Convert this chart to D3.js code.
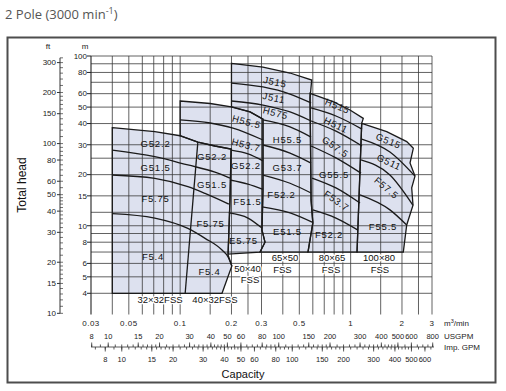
<!DOCTYPE html>
<html>
<head>
<meta charset="utf-8">
<script src="https://cdnjs.cloudflare.com/ajax/libs/d3/7.8.5/d3.min.js"></script>
<style>
  body { margin: 0; background: #fff; }
  text { font-family: "Liberation Sans", Arial, sans-serif; }
</style>
</head>
<body>
<div id="chart"></div>
<script>
// axes values
const flowTicks = [0.03, 0.05, 0.1, 0.2, 0.3, 0.5, 1, 2, 3];
const flowGrid = [0.04, 0.05, 0.06, 0.07, 0.08, 0.09, 0.1, 0.15, 0.2, 0.25, 0.3, 0.4, 0.5, 0.6, 0.7, 0.8, 0.9, 1, 1.5, 2, 2.5, 3];
const headTicks = [4, 5, 6, 8, 10, 15, 20, 30, 40, 50, 60, 80, 100];
const headGrid = [4, 5, 6, 7, 8, 9, 10, 12, 15, 20, 25, 30, 40, 50, 60, 70, 80, 90, 100];
const feetTicks = [10, 15, 20, 30, 40, 50, 60, 80, 100, 150, 200, 300];
const usgpmTicks = [8, 10, 15, 20, 30, 40, 50, 60, 80, 100, 150, 200, 300, 400, 500, 600, 800];
const impTicks = [8, 10, 15, 20, 30, 40, 50, 60, 80, 100, 150, 200, 300, 400, 500, 600];

// 32x32 / 40x32 FSS  [m3/min, m]
const fss32Outline = [[0.04,37.8],[0.071,35.8],[0.1,33.9],[0.127,31.1],[0.16,29.5],[0.199,28.3],
  [0.196,14.2],[0.191,6.72],[0.201,5.79],[0.176,4],[0.04,4]];
const fss32Curves = [
  [[0.04,27.9],[0.071,25.5],[0.111,22.8],[0.16,20.7],[0.196,19.1]],
  [[0.04,19.9],[0.071,19.0],[0.111,17.0],[0.14,15.5],[0.193,13.4]],
  [[0.04,11.8],[0.071,11.1],[0.111,9.65],[0.14,8.43],[0.176,7.19],[0.191,6.54],[0.201,5.79]]
];
const fss32Divider = [[0.127,31.1],[0.107,4]];
const fss32Labels = [[0.0717,30.6,"G52.2"],[0.0717,22.1,"G51.5"],[0.0717,14.5,"F5.75"],[0.0693,6.57,"F5.4"],
  [0.1538,25.5,"G52.2"],[0.1538,17.4,"G51.5"],[0.1507,10.3,"F5.75"],[0.1487,5.36,"F5.4"]];

// 50x40 FSS
const fss50Outline = [[0.1,54.3],[0.15,52.5],[0.204,50],[0.257,46.8],[0.306,42.5],[0.306,16.2],[0.302,9.43],
  [0.3145,8.0],[0.294,7.0],[0.191,6.8],[0.196,14.2],[0.199,28.3],[0.16,29.5],[0.127,31.1],[0.1,33.9]];
const fss50Curves = [
  [[0.1,42.0],[0.15,40.3],[0.204,37.6],[0.306,32.0]],
  [[0.199,27.9],[0.25,26.5],[0.306,24.1]],
  [[0.196,18.6],[0.25,17.6],[0.306,16.4]],
  [[0.193,11.9],[0.25,11.1],[0.302,9.69]]
];
const fss50Labels = [[0.245,40.9,"H55.5"],[0.2433,29.9,"H53.7"],[0.2433,22.5,"G52.2"],[0.2483,13.8,"F51.5"],[0.2353,8.12,"E5.75"]];

// 65x50 FSS
const fss65Outline = [[0.2,90.6],[0.306,86.1],[0.441,79.4],[0.591,72.2],[0.578,56.6],[0.586,14.2],[0.6,10.4],
  [0.562,7.0],[0.294,7.0],[0.3145,8.0],[0.302,9.43],[0.306,16.2],[0.306,42.5],[0.257,46.8],[0.2,50]];
const fss65Curves = [
  [[0.2,69.3],[0.306,65.7],[0.441,59.7],[0.586,52.9]],
  [[0.2,54.3],[0.306,51.4],[0.441,46.8],[0.586,41.4]],
  [[0.306,42.0],[0.441,38.2],[0.586,33.3]],
  [[0.306,29.9],[0.441,26.8],[0.586,23.4]],
  [[0.306,19.9],[0.441,17.8],[0.586,15.6]],
  [[0.302,12.9],[0.441,11.9],[0.594,10.5]]
];
const fss65Labels = [[0.36,70.3,"J515"],[0.355,56.6,"J511"],[0.3625,46.1,"H575"],[0.426,32.0,"H55.5"],
  [0.426,21.9,"G53.7"],[0.393,15.2,"F52.2"],[0.426,9.18,"E51.5"]];

// 80x65 FSS
const fss80Outline = [[0.578,60.3],[0.788,53.8],[0.991,48.1],[1.186,42.9],[1.161,40.1],[1.09,7.0],
  [0.562,7.0],[0.6,10.4],[0.586,14.2],[0.578,56.6]];
const fss80Curves = [
  [[0.586,49.4],[0.82,44.3],[1.166,37.1]],
  [[0.586,41.4],[0.82,36.1],[1.166,29.5]],
  [[0.586,29.5],[0.82,25.1],[1.15,20.4]],
  [[0.594,19.1],[0.82,16.7],[1.135,13.6]],
  [[0.6,12.4],[0.82,11.1],[1.104,9.43]]
];
const fss80Labels = [[0.837,50.7,"H515"],[0.82,39.2,"H511"],[0.815,29.1,"G57.5"],[0.799,19.9,"G55.5"],
  [0.826,14.0,"F53.7"],[0.747,8.82,"F52.2"]];

// 100x80 FSS
const fss100Outline = [[1.161,40.1],[1.627,35.8],[2.132,31.3],[2.331,28.6],[2.229,23.4],[2.384,19.6],
  [2.281,16.7],[2.321,13.2],[2.132,10.1],[2.036,7.0],[1.09,7.0]];
const fss100Curves = [
  [[1.161,32.4],[1.70,27.2],[2.384,19.6]],
  [[1.15,24.4],[1.70,19.9],[2.321,13.2]],
  [[1.135,15.2],[1.70,12.4],[2.132,10.1]]
];
const fss100Labels = [[1.667,31.6,"G515"],[1.679,23.7,"G511"],[1.623,16.7,"F57.5"],[1.548,9.82,"F55.5"]];

// pump size names
const sizeLabels = [[0.0762,3.65,"32×32FSS"],[0.16,3.65,"40×32FSS"],[0.2483,5.61,"50×40"],[0.2569,4.79,"FSS"],
  [0.412,6.51,"65×50"],[0.398,5.53,"FSS"],[0.778,6.51,"80×65"],[0.767,5.53,"FSS"],
  [1.467,6.51,"100×80"],[1.486,5.53,"FSS"]];

const W = 506, H = 391;
const svg = d3.select("#chart").append("svg").attr("width", W).attr("height", H);

const x = d3.scaleLog().domain([0.03, 3]).range([91, 432]);
const y = d3.scaleLog().domain([3, 100]).range([314.5, 56]);

const title = svg.append("text").attr("x", 5).attr("y", 19)
  .attr("font-size", 13).attr("fill", "#555")
  .style("font-family", "'Open Sans', sans-serif");
title.append("tspan").text("2 Pole (3000 min");
title.append("tspan").attr("dy", -5).attr("font-size", 9).text("-1");
title.append("tspan").attr("dy", 5).text(")");

svg.append("rect").attr("x", 7.5).attr("y", 37.5).attr("width", 488).attr("height", 345)
  .attr("fill", "#fff").attr("stroke", "#4d4d4d").attr("stroke-width", 2);

const line = d3.line().x(d => x(d[0])).y(d => y(d[1]));
const smooth = d3.line().x(d => x(d[0])).y(d => y(d[1])).curve(d3.curveMonotoneX);

const outlines = [fss32Outline, fss50Outline, fss65Outline, fss80Outline, fss100Outline];
const curves = [fss32Curves, fss50Curves, fss65Curves, fss80Curves, fss100Curves];

// shaded areas
svg.append("g").selectAll("path").data(outlines).enter().append("path")
  .attr("d", d => line(d) + "Z").attr("fill", "#dde1ef");

// grid
const grid = svg.append("g").attr("stroke", "#3a3a3a").attr("stroke-width", 0.8);
grid.selectAll(".v").data(flowGrid).enter().append("line")
  .attr("x1", d => x(d)).attr("x2", d => x(d)).attr("y1", y(100)).attr("y2", y(3));
grid.selectAll(".h").data(headGrid).enter().append("line")
  .attr("x1", x(0.03)).attr("x2", x(3)).attr("y1", d => y(d)).attr("y2", d => y(d));
grid.append("line").attr("x1", x(0.03)).attr("x2", x(0.03)).attr("y1", y(100)).attr("y2", y(3))
  .attr("stroke", "#222").attr("stroke-width", 1.1);

// region borders and curves
svg.append("g").selectAll("path").data(outlines).enter().append("path")
  .attr("d", d => line(d) + "Z").attr("fill", "none").attr("stroke", "#1a1a1a").attr("stroke-width", 1.3);
svg.append("g").selectAll("path").data(curves.flat()).enter().append("path")
  .attr("d", smooth).attr("fill", "none").attr("stroke", "#1a1a1a").attr("stroke-width", 1.3);
svg.append("path").attr("d", line(fss32Divider)).attr("fill", "none")
  .attr("stroke", "#1a1a1a").attr("stroke-width", 1.3);

// region labels
const tilt = [0,0,0,0,0,0,0,0, 15,15,0,0,0, 12,12,15,0,0,0,0, 22,25,35,0,35,0, 22,25,40,0];
const allLabels = [].concat(fss32Labels, fss50Labels, fss65Labels, fss80Labels, fss100Labels);
svg.append("g").selectAll("text").data(allLabels).enter().append("text")
  .attr("transform", (d, i) => `translate(${x(d[0])},${y(d[1])}) rotate(${tilt[i]})`)
  .attr("dy", "0.35em").attr("text-anchor", "middle")
  .attr("font-size", 9.5).attr("letter-spacing", 0.8).attr("fill", "#111")
  .text(d => d[2]);

svg.append("g").selectAll("text").data(sizeLabels).enter().append("text")
  .attr("x", d => x(d[0])).attr("y", d => y(d[1])).attr("dy", "0.35em")
  .attr("text-anchor", "middle").attr("font-size", 9.5).attr("fill", "#111")
  .attr("stroke", "#fff").attr("stroke-width", 2.5).attr("paint-order", "stroke")
  .text(d => d[2]);

// m axis
const mAxis = svg.append("g");
mAxis.selectAll("line").data(headTicks).enter().append("line")
  .attr("x1", x(0.03) - 4).attr("x2", x(0.03)).attr("y1", d => y(d)).attr("y2", d => y(d))
  .attr("stroke", "#222");
mAxis.selectAll("text").data(headTicks).enter().append("text")
  .attr("x", x(0.03) - 4).attr("y", d => y(d)).attr("dy", "0.35em")
  .attr("text-anchor", "end").attr("font-size", 8).attr("fill", "#222").text(d => d);
svg.append("text").attr("x", 85).attr("y", 49).attr("text-anchor", "middle")
  .attr("font-size", 8).attr("fill", "#222").text("m");

// ft axis
const ftM = 0.3048;
const ftX = 60;
const ftMinor = [].concat(d3.range(10, 20, 1), d3.range(20, 50, 2), d3.range(50, 100, 5),
  d3.range(100, 200, 10), d3.range(200, 321, 20));
const ftAxis = svg.append("g").attr("stroke", "#333");
ftAxis.append("line").attr("x1", ftX).attr("x2", ftX)
  .attr("y1", y(10 * ftM)).attr("y2", y(320 * ftM));
ftAxis.selectAll(".mn").data(ftMinor).enter().append("line")
  .attr("x1", ftX).attr("x2", ftX + 3).attr("y1", d => y(d * ftM)).attr("y2", d => y(d * ftM))
  .attr("stroke-width", 0.7);
ftAxis.selectAll(".mj").data(feetTicks).enter().append("line")
  .attr("x1", ftX - 3).attr("x2", ftX).attr("y1", d => y(d * ftM)).attr("y2", d => y(d * ftM));
svg.append("g").selectAll("text").data(feetTicks).enter().append("text")
  .attr("x", ftX - 4).attr("y", d => y(d * ftM)).attr("dy", "0.35em")
  .attr("text-anchor", "end").attr("font-size", 8).attr("fill", "#222").text(d => d);
svg.append("text").attr("x", 48).attr("y", 49).attr("text-anchor", "middle")
  .attr("font-size", 8).attr("fill", "#222").text("ft");

svg.append("text").attr("transform", "translate(26,185) rotate(-90)")
  .attr("text-anchor", "middle").attr("font-size", 12).attr("fill", "#111").text("Total head");

// capacity axes
svg.append("g").selectAll("text").data(flowTicks).enter().append("text")
  .attr("x", d => x(d)).attr("y", 326).attr("text-anchor", "middle")
  .attr("font-size", 8).attr("letter-spacing", 0.5).attr("fill", "#222").text(d => d);
const unit = svg.append("text").attr("x", 444).attr("y", 326).attr("font-size", 8).attr("fill", "#222");
unit.append("tspan").text("m");
unit.append("tspan").attr("dy", -3).attr("font-size", 5.5).text("3");
unit.append("tspan").attr("dy", 3).text("/min");

const usM = d => d / 264.17;
const impM = d => d / 219.97;
const gY = 347;
const gAxis = svg.append("g").attr("stroke", "#333").attr("stroke-width", 0.8);
gAxis.append("line").attr("x1", 91).attr("x2", 434).attr("y1", gY).attr("y2", gY);
const usMinor = [].concat(d3.range(8, 20, 1), d3.range(20, 50, 2), d3.range(50, 100, 5),
  d3.range(100, 200, 10), d3.range(200, 500, 20), d3.range(500, 801, 50));
const impMinor = [].concat(d3.range(7, 20, 1), d3.range(20, 50, 2), d3.range(50, 100, 5),
  d3.range(100, 200, 10), d3.range(200, 500, 20), d3.range(500, 651, 50));
gAxis.selectAll(".um").data(usMinor).enter().append("line")
  .attr("x1", d => x(usM(d))).attr("x2", d => x(usM(d))).attr("y1", gY).attr("y2", gY - 2.5);
gAxis.selectAll(".uj").data(usgpmTicks).enter().append("line")
  .attr("x1", d => x(usM(d))).attr("x2", d => x(usM(d))).attr("y1", gY).attr("y2", gY - 4.5);
gAxis.selectAll(".im").data(impMinor).enter().append("line")
  .attr("x1", d => x(impM(d))).attr("x2", d => x(impM(d))).attr("y1", gY).attr("y2", gY + 2.5);
gAxis.selectAll(".ij").data(impTicks).enter().append("line")
  .attr("x1", d => x(impM(d))).attr("x2", d => x(impM(d))).attr("y1", gY).attr("y2", gY + 4.5);

svg.append("g").selectAll("text").data(usgpmTicks).enter().append("text")
  .attr("x", d => x(usM(d))).attr("y", 339).attr("text-anchor", "middle")
  .attr("font-size", 7.5).attr("fill", "#222").text(d => d);
svg.append("g").selectAll("text").data(impTicks).enter().append("text")
  .attr("x", d => x(impM(d))).attr("y", 362).attr("text-anchor", "middle")
  .attr("font-size", 7.5).attr("fill", "#222").text(d => d);
svg.append("text").attr("x", 444).attr("y", 339).attr("font-size", 8).attr("fill", "#222").text("USGPM");
svg.append("text").attr("x", 444).attr("y", 350).attr("font-size", 8).attr("fill", "#222").text("Imp. GPM");
svg.append("text").attr("x", 243).attr("y", 378).attr("text-anchor", "middle")
  .attr("font-size", 11).attr("fill", "#111").text("Capacity");
</script>
</body>
</html>
